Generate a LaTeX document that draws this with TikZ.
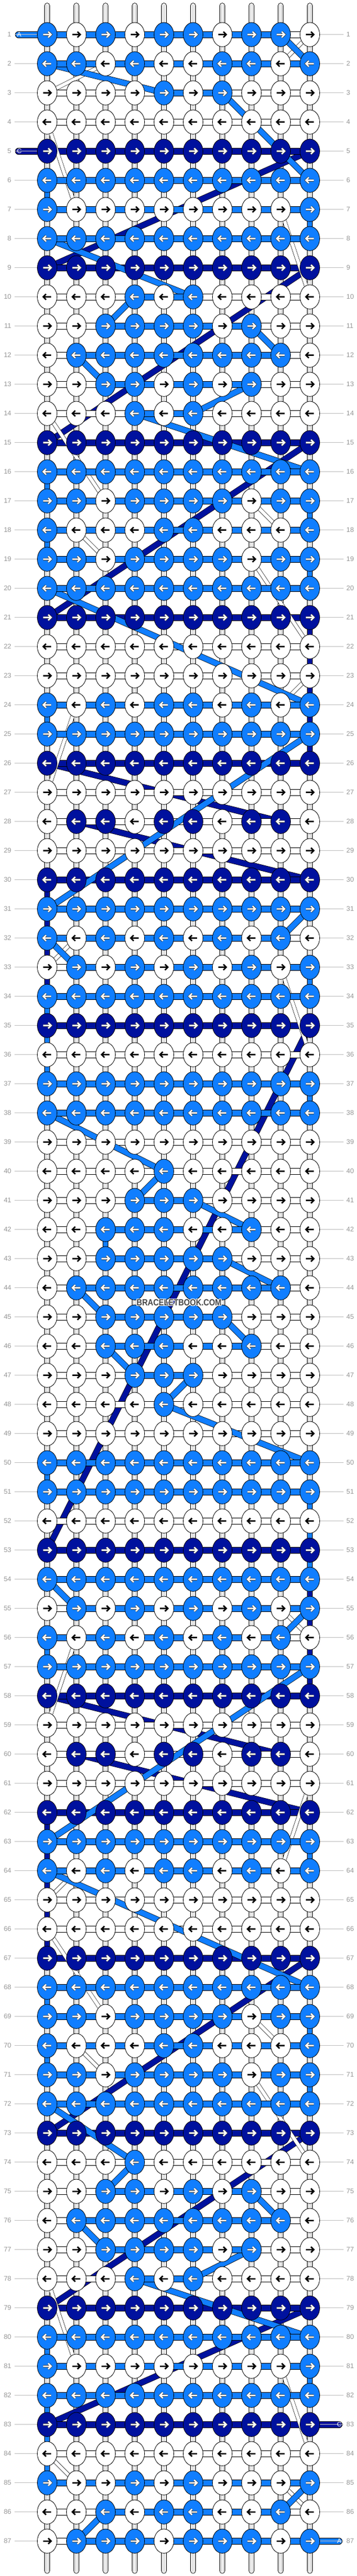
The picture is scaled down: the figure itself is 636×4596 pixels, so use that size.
\documentclass[tikz,border=0pt]{standalone}
\usepackage{fontspec}
\setmainfont{Liberation Sans}
\usetikzlibrary{shapes.geometric}
\definecolor{cL}{RGB}{16,126,255}
\definecolor{cD}{RGB}{0,17,158}
\definecolor{cW}{RGB}{255,255,255}
\definecolor{aL}{RGB}{255,255,255}
\definecolor{aD}{RGB}{255,255,255}
\definecolor{aW}{RGB}{0,0,0}
\definecolor{oL}{RGB}{60,60,60}
\definecolor{oD}{RGB}{60,60,60}
\definecolor{oW}{RGB}{255,255,255}
\definecolor{lblgray}{RGB}{150,150,150}
\definecolor{lngray}{RGB}{190,190,190}
\definecolor{tubegray}{RGB}{195,195,195}
\pgfdeclarelayer{laybg}\pgfdeclarelayer{laytube}\pgfdeclarelayer{laydark}\pgfdeclarelayer{laywhite}\pgfdeclarelayer{laylight}
\pgfsetlayers{laybg,laytube,laydark,laywhite,laylight,main}
\tikzset{
 knot/.style={ellipse,draw=black,line width=0.8,minimum width=35,minimum height=43.3,inner sep=0},
 tube/.style={draw=black,double=white,line width=0.9,double distance=8.5,line cap=round},
 lbar/.style={draw=black,double=cL,line width=0.8,double distance=10.1},
 dbar/.style={draw=black,double=cD,line width=0.8,double distance=10.1},
 wbar/.style={draw=black,double=white,line width=0.8,double distance=10.1},
 lcon/.style={draw=black,double=cL,line width=0.7,double distance=9.6},
 dcon/.style={draw=black,double=cD,line width=0.7,double distance=9.6},
 lvcon/.style={draw=black,double=cL,line width=0.9,double distance=8.5},
 dvcon/.style={draw=black,double=cD,line width=0.9,double distance=8.5},
 wcon/.style={draw=black,double=white,line width=0.6,double distance=6},
 rowlab/.style={text=lblgray,font=\fontsize{12}{14}\selectfont,inner sep=0},
 thrlab/.style={text=white,font=\fontsize{11.5}{13}\selectfont,inner sep=0},
}
\begin{document}
\begin{tikzpicture}[x=1pt,y=-1pt]
\useasboundingbox (0,0) rectangle (636,4596);
\begin{pgfonlayer}{laybg}\fill[white] (0,0) rectangle (636,4596);\end{pgfonlayer}
% knots
\foreach \r/\s in {
1/{L,W,L,W,L,L,W,L,L,W},
2/{L,L,W,L,W,W,L,L,W,L},
3/{W,W,W,W,L,W,L,W,W,W},
4/{W,W,W,W,W,W,W,W,W,W},
5/{D,D,D,D,D,D,D,D,D,D},
6/{L,L,L,L,L,L,L,L,L,L},
7/{L,W,W,W,W,W,W,W,W,L},
8/{L,L,L,L,L,L,L,L,L,L},
9/{D,D,D,D,D,D,D,D,D,D},
10/{W,W,W,L,W,L,W,W,W,W},
11/{W,W,L,L,L,L,W,L,W,W},
12/{W,L,L,L,L,L,L,L,L,W},
13/{W,W,L,L,W,L,W,L,W,W},
14/{W,W,W,L,W,L,W,W,W,W},
15/{D,D,D,D,D,D,D,D,D,D},
16/{L,L,L,L,L,L,L,L,L,L},
17/{L,L,W,L,L,L,L,W,L,L},
18/{L,W,W,W,L,L,W,W,W,L},
19/{L,L,W,L,L,L,L,W,L,L},
20/{L,L,L,L,L,L,L,L,L,L},
21/{D,D,D,D,D,D,D,D,D,D},
22/{W,W,W,W,W,W,W,W,W,W},
23/{W,W,W,W,W,W,W,W,W,W},
24/{L,W,L,W,L,L,W,L,W,L},
25/{L,L,L,L,L,L,L,L,L,L},
26/{D,D,D,D,D,D,D,D,D,D},
27/{W,W,W,W,W,W,W,W,W,W},
28/{W,D,D,W,D,D,W,D,D,W},
29/{W,W,W,W,W,W,W,W,W,W},
30/{D,D,D,D,D,D,D,D,D,D},
31/{L,L,L,L,L,L,L,L,L,L},
32/{L,W,L,W,L,W,L,W,L,W},
33/{W,L,W,L,W,L,W,L,W,L},
34/{L,L,L,L,L,L,L,L,L,L},
35/{D,D,D,D,D,D,D,D,D,D},
36/{W,W,W,W,W,W,W,W,W,W},
37/{L,L,L,L,L,L,L,L,L,L},
38/{L,L,L,L,L,L,L,L,L,L},
39/{W,W,W,W,W,W,W,W,W,W},
40/{W,W,W,W,L,W,W,W,W,W},
41/{W,W,W,L,L,L,W,W,W,W},
42/{W,W,L,L,L,W,W,L,W,W},
43/{W,W,L,L,L,L,L,W,W,W},
44/{W,L,L,L,L,L,L,L,L,W},
45/{W,W,L,L,L,L,L,W,W,W},
46/{W,W,L,L,L,W,W,L,W,W},
47/{W,W,W,L,L,L,W,W,W,W},
48/{W,W,W,W,L,W,W,W,W,W},
49/{W,W,W,W,W,W,W,W,W,W},
50/{L,L,L,L,L,L,L,L,L,L},
51/{L,L,L,L,L,L,L,L,L,L},
52/{W,W,W,W,W,W,W,W,W,W},
53/{D,D,D,D,D,D,D,D,D,D},
54/{L,L,L,L,L,L,L,L,L,L},
55/{W,L,W,L,W,L,W,L,W,L},
56/{L,W,L,W,L,W,L,W,L,W},
57/{L,L,L,L,L,L,L,L,L,L},
58/{D,D,D,D,D,D,D,D,D,D},
59/{W,W,W,W,W,W,W,W,W,W},
60/{W,D,D,W,D,D,W,D,D,W},
61/{W,W,W,W,W,W,W,W,W,W},
62/{D,D,D,D,D,D,D,D,D,D},
63/{L,L,L,L,L,L,L,L,L,L},
64/{L,W,L,W,L,L,W,L,W,L},
65/{W,W,W,W,W,W,W,W,W,W},
66/{W,W,W,W,W,W,W,W,W,W},
67/{D,D,D,D,D,D,D,D,D,D},
68/{L,L,L,L,L,L,L,L,L,L},
69/{L,L,W,L,L,L,L,W,L,L},
70/{L,W,W,W,L,L,W,W,W,L},
71/{L,L,W,L,L,L,L,W,L,L},
72/{L,L,L,L,L,L,L,L,L,L},
73/{D,D,D,D,D,D,D,D,D,D},
74/{W,W,W,L,W,W,W,W,W,W},
75/{W,W,L,L,W,L,W,L,W,W},
76/{W,L,L,L,L,L,L,L,L,W},
77/{W,W,L,L,L,L,W,L,W,W},
78/{W,W,W,L,W,L,W,W,W,W},
79/{D,D,D,D,D,D,D,D,D,D},
80/{L,L,L,L,L,L,L,L,L,L},
81/{L,W,W,W,W,W,W,W,W,L},
82/{L,L,L,L,L,L,L,L,L,L},
83/{D,D,D,D,D,D,D,D,D,D},
84/{W,W,W,W,W,W,W,W,W,W},
85/{L,W,W,L,W,L,W,W,W,L},
86/{W,W,L,W,L,L,W,W,L,W},
87/{W,L,L,L,W,L,L,L,W,L}}{%
  \pgfmathsetmacro\yy{61.7+(\r-1)*52}%
  \pgfmathsetmacro\dd{isodd(\r)?1:-1}%
  \foreach \k [count=\c] in \s {%
    \pgfmathsetmacro\xx{84+(\c-1)*52}%
    \node[knot,fill=c\k] (k-\r-\c) at (\xx,\yy) {};
    \foreach \lw/\cc in {4.2/o,2.5/a}{%
      \draw[draw=\cc\k,line width=\lw,line join=miter] ({\xx-7.2*\dd},\yy) -- ({\xx+7.0*\dd},\yy) ({\xx+1.9*\dd},{\yy-5.1}) -- ({\xx+7.0*\dd},\yy) -- ({\xx+1.9*\dd},{\yy+5.1});
    }
  }
  \node[rowlab,anchor=east] (ll-\r) at (20.3,\yy) {\r};
  \node[rowlab,anchor=west] (lr-\r) at (617,\yy) {\r};
  \draw[lngray,line width=0.9] ([xshift=6]ll-\r.east) -- (k-\r-1.west);
  \draw[lngray,line width=0.9] (k-\r-10.east) -- ([xshift=-5]lr-\r.west);
}
% vertical threads
\begin{pgfonlayer}{laytube}
\foreach \c in {1,...,10}{%
  \pgfmathsetmacro\xx{84+(\c-1)*52}%
  \coordinate (t-\c) at (\xx,10.2);
  \coordinate (b-\c) at (\xx,4586.5);
  \draw[tube] (t-\c) -- (b-\c);
  \draw[draw=tubegray,line width=3.2] ([yshift=2]t-\c) -- ([yshift=-2]b-\c);
  \draw[draw=white,line width=1.1] ([yshift=2]t-\c) -- ([yshift=-2]b-\c);
}
\end{pgfonlayer}
% dark thread C
\begin{pgfonlayer}{laydark}
\foreach \pa/\pb/\pc/\pd in {5/10/9/1,9/10/15/1,15/10/21/1,26/1/28/9,28/2/30/10,35/10/53/1,58/1/60/9,60/2/62/10,67/10/73/1,73/10/79/1,79/10/83/1}{%
  \draw[dcon] (k-\pa-\pb.center) -- (k-\pc-\pd.center);}
\foreach \pa/\pb/\pc/\pd in {21/10/26/10,30/1/35/1,53/10/58/10,62/1/67/1}{%
  \draw[dvcon] (k-\pa-\pb.center) -- (k-\pc-\pd.center);}
\foreach \r in {9,15,21,26,30,35,53,58,62,67,73,79}{%
  \draw[dbar] (k-\r-1.center) -- (k-\r-10.center);}
\foreach \r in {28,60}{%
  \draw[dbar] (k-\r-2.center) -- (k-\r-9.center);}
\coordinate (inC) at (32.7,269.7);
\draw[dbar,line cap=round] (inC) -- (k-5-10.center);
\coordinate (outC) at (604.2,4325.7);
\draw[dbar,line cap=round] (k-83-1.center) -- (outC);
\end{pgfonlayer}
% white knotting thread
\begin{pgfonlayer}{laywhite}
\foreach \pa/\pb/\pc/\pd in {1/10/2/9,2/3/3/1,4/1/7/2,7/9/10/10,14/1/17/3,17/8/18/9,18/2/19/3,19/8/22/10,23/10/24/9,24/2/27/1,32/2/33/1,33/9/36/10,55/9/56/10,56/2/59/1,61/10/64/9,64/2/65/1,66/1/69/3,69/8/70/9,70/2/71/3,71/8/74/10,78/1/81/2,81/9/84/10,84/1/85/2,85/9/86/10}{%
  \draw[wcon] (k-\pa-\pb.center) -- (k-\pc-\pd.center);}
\foreach \r in {3,4,10,11,12,13,14,22,23,27,28,29,36,39,40,41,42,43,44,45,46,47,48,49,52,59,60,61,65,66,74,75,76,77,78,84,86}{%
  \draw[wbar] (k-\r-1.center) -- (k-\r-10.center);}
\foreach \r/\a/\b in {1/2/10,2/3/9,7/2/9,17/3/8,18/2/9,19/3/8,24/2/9,32/2/10,33/1/9,55/1/9,56/2/10,64/2/9,69/3/8,70/2/9,71/3/8,81/2/9,85/2/9,87/1/9}{%
  \draw[wbar] (k-\r-\a.center) -- (k-\r-\b.center);}
\end{pgfonlayer}
% light thread A
\begin{pgfonlayer}{laylight}
\foreach \pa/\pb/\pc/\pd in {1/9/2/10,2/1/3/5,3/7/6/10,8/1/10/6,10/4/11/3,11/8/12/9,12/2/13/3,13/8/14/6,14/4/16/10,20/1/24/10,25/10/31/1,31/10/32/9,32/1/33/2,38/1/40/5,40/5/41/4,41/6/42/8,43/7/44/9,44/2/45/3,45/7/46/8,46/3/47/4,47/6/48/5,48/5/50/10,54/1/55/2,55/10/56/9,57/10/63/1,64/1/68/10,72/1/74/4,74/4/75/3,75/8/76/9,76/2/77/3,77/8/78/6,78/4/80/10,85/10/86/9,86/3/87/2}{%
  \draw[lcon] (k-\pa-\pb.center) -- (k-\pc-\pd.center);}
\foreach \pa/\pb/\pc/\pd in {6/1/7/1,7/10/8/10,16/1/17/1,17/10/18/10,18/1/19/1,19/10/20/10,24/1/25/1,33/10/34/10,34/1/37/1,37/10/38/10,42/3/43/3,50/1/51/1,51/10/54/10,56/1/57/1,63/10/64/10,68/1/69/1,69/10/70/10,70/1/71/1,71/10/72/10,80/1/81/1,81/10/82/10,82/1/85/1}{%
  \draw[lvcon] (k-\pa-\pb.center) -- (k-\pc-\pd.center);}
\foreach \r in {2,6,7,8,16,17,18,19,20,24,25,31,34,37,38,50,51,54,57,63,64,68,69,70,71,72,80,81,82,85}{%
  \draw[lbar] (k-\r-1.center) -- (k-\r-10.center);}
\foreach \r/\a/\b in {3/5/7,10/4/6,11/3/8,12/2/9,13/3/8,14/4/6,32/1/9,33/2/10,41/4/6,42/3/8,43/3/7,44/2/9,45/3/7,46/3/8,47/4/6,55/2/10,56/1/9,75/3/8,76/2/9,77/3/8,78/4/6,86/3/9}{%
  \draw[lbar] (k-\r-\a.center) -- (k-\r-\b.center);}
\coordinate (inA) at (32.7,61.7);
\draw[lbar,line cap=round] (inA) -- (k-1-9.center);
\coordinate (outA) at (604.2,4533.7);
\draw[lbar,line cap=round] (k-87-2.center) -- (outA);
\end{pgfonlayer}
% thread labels
\node[thrlab] (tA1) at (34.3,61.7) {A};
\node[thrlab] (tC1) at (34.5,269.7) {C};
\node[thrlab] (tC2) at (604.5,4325.7) {C};
\node[thrlab] (tA2) at (604.5,4533.7) {A};
% watermark
\foreach \ox/\oy in {-1/0,1/0,0/-1,0/1,-1/-1,1/1,-1/1,1/-1}{%
  \node[text=white,font=\bfseries\fontsize{16}{16}\selectfont,xscale=0.855,transform shape,inner sep=0] at (319+\ox,2323.5+\oy) {BRACELETBOOK.COM};}
\node[text=black!72,font=\bfseries\fontsize{16}{16}\selectfont,xscale=0.855,transform shape,inner sep=0] (wm) at (319,2323.5) {BRACELETBOOK.COM};
\end{tikzpicture}
\end{document}
